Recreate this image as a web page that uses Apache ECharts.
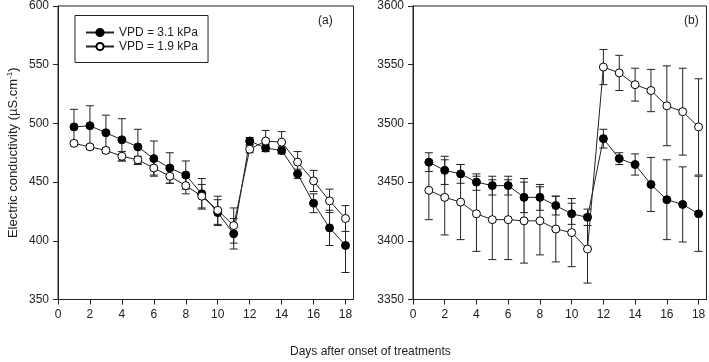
<!DOCTYPE html>
<html><head><meta charset="utf-8">
<script src="https://cdn.jsdelivr.net/npm/echarts@6/dist/echarts.min.js"></script>
<style>html,body{margin:0;padding:0;background:#fff}#c{width:709px;height:362px}</style>
</head><body><div id="c"></div>
<script>
var days = [1,2,3,4,5,6,7,8,9,10,11,12,13,14,15,16,17,18];
var xTicks = [0,2,4,6,8,10,12,14,16,18];
// Panel (a)
var aHigh = [497,498,492,486,480,470,462,456,440,424,406,485,479,477,457,432,411,396];
var aHighSE = [15,17,15,18,15,15,13,12,13,11,13,3,3,3,4,8,15,23];
var aLow = [483,480,477,472,469,462,455,447,438,426,413,478,485,484,467,451,434,419];
var aLowSE = [2,2,2,4,3,6,6,7,10,12,15,3,9,9,9,9,10,11];
// Panel (b)
var bHigh = [3467,3460,3457,3450,3447,3447,3437,3437,3430,3423,3420,3487,3470,3465,3448,3435,3431,3423];
var bHighSE = [8,12,8,7,8,8,13,11,8,9,7,8,5,9,23,34,32,32];
var bLow = [3443,3437,3433,3423,3418,3418,3417,3417,3410,3407,3393,3548,3543,3533,3528,3515,3510,3497];
var bLowSE = [25,32,32,32,34,34,36,29,28,29,29,15,15,14,18,34,37,41];

var nameHigh = 'VPD = 3.1 kPa', nameLow = 'VPD = 1.9 kPa';
var ink = '#222';
var font = 'Liberation Sans, Arial, sans-serif';

function pts(vals){ return days.map(function(d,i){ return [d, vals[i]]; }); }
function errData(vals, se){ return days.map(function(d,i){ return [d, vals[i], se[i]]; }); }
function errSeries(vals, se, idx){
  return {
    type:'custom', xAxisIndex: idx, yAxisIndex: idx, z: 1, silent: true,
    data: errData(vals, se),
    renderItem: function(params, api){
      var x = api.value(0), m = api.value(1), s = api.value(2);
      var top = api.coord([x, m + s]), bot = api.coord([x, m - s]);
      var w = 4;
      var st = {stroke: ink, lineWidth: 1};
      return {type:'group', children:[
        {type:'line', shape:{x1:top[0], y1:top[1], x2:bot[0], y2:bot[1]}, style: st},
        {type:'line', shape:{x1:top[0]-w, y1:top[1], x2:top[0]+w, y2:top[1]}, style: st},
        {type:'line', shape:{x1:bot[0]-w, y1:bot[1], x2:bot[0]+w, y2:bot[1]}, style: st}
      ]};
    }
  };
}
function lineSeries(name, vals, idx, filled){
  return {
    type:'line', name: name, xAxisIndex: idx, yAxisIndex: idx, z: 3,
    data: pts(vals), symbol:'circle', symbolSize: 8, showSymbol: true,
    lineStyle:{color: ink, width: 1},
    itemStyle:{color: filled ? '#000' : '#fff', borderColor: '#000', borderWidth: 1},
    emphasis:{disabled:true}, animation:false
  };
}
function xAx(idx){
  return {
    type:'value', gridIndex: idx, min: 0, max: 18.5,
    axisLine:{show:true, lineStyle:{color: ink, width:1}},
    axisTick:{show:true, length:5, inside:false, customValues: xTicks, lineStyle:{color: ink}},
    axisLabel:{customValues: xTicks, color:'#222', fontSize:12, fontFamily: font, margin: 9},
    splitLine:{show:false}
  };
}
function yAx(idx, mn, mx){
  return {
    type:'value', gridIndex: idx, min: mn, max: mx, interval: 50,
    axisLine:{show:true, lineStyle:{color: ink, width:1}},
    axisTick:{show:true, length:5, inside:false, lineStyle:{color: ink}},
    axisLabel:{color:'#222', fontSize:12, fontFamily: font, margin: 9, formatter: function(v){ return String(v); }},
    splitLine:{show:false}
  };
}
var yA = yAx(0, 350, 600);
yA.name = 'Electric conductivity (µS.cm{sup|-1})';
yA.nameLocation = 'middle';
yA.nameGap = 38;
yA.nameTextStyle = {color:'#222', fontSize:13, fontFamily: font, rich:{sup:{fontSize:8, verticalAlign:'top', color:'#222', fontFamily: font, padding:[0,0,6,0]}}};

var chart = echarts.init(document.getElementById('c'), null, {renderer:'canvas'});
chart.setOption({
  animation:false,
  backgroundColor:'#fff',
  grid:[
    {left:58, right:355.5, top:5, bottom:62.5, show:true, borderColor: ink, borderWidth:1, backgroundColor:'transparent'},
    {left:413, right:2.5, top:5, bottom:62.5, show:true, borderColor: ink, borderWidth:1, backgroundColor:'transparent'}
  ],
  xAxis:[xAx(0), xAx(1)],
  yAxis:[yA, yAx(1, 3350, 3600)],
  legend:{
    left:75, top:15.5, orient:'vertical', data:[nameHigh, nameLow],
    borderColor: ink, borderWidth:1, padding:[11,10,10,10], itemGap:2,
    itemWidth:28, itemHeight:9, selectedMode:false,
    textStyle:{color:'#222', fontSize:12, fontFamily: font}
  },
  graphic:[
    {type:'text', left:318, top:15, style:{text:'(a)', fontSize:12, fontFamily: font, fill:'#222'}},
    {type:'text', left:684, top:15, style:{text:'(b)', fontSize:12, fontFamily: font, fill:'#222'}},
    {type:'text', left:290, top:346, style:{text:'Days after onset of treatments', fontSize:12, fontFamily: font, fill:'#222'}}
  ],
  series:[
    errSeries(aHigh, aHighSE, 0), errSeries(aLow, aLowSE, 0),
    lineSeries(nameHigh, aHigh, 0, true), lineSeries(nameLow, aLow, 0, false),
    errSeries(bHigh, bHighSE, 1), errSeries(bLow, bLowSE, 1),
    lineSeries(nameHigh, bHigh, 1, true), lineSeries(nameLow, bLow, 1, false)
  ]
});
</script></body></html>
